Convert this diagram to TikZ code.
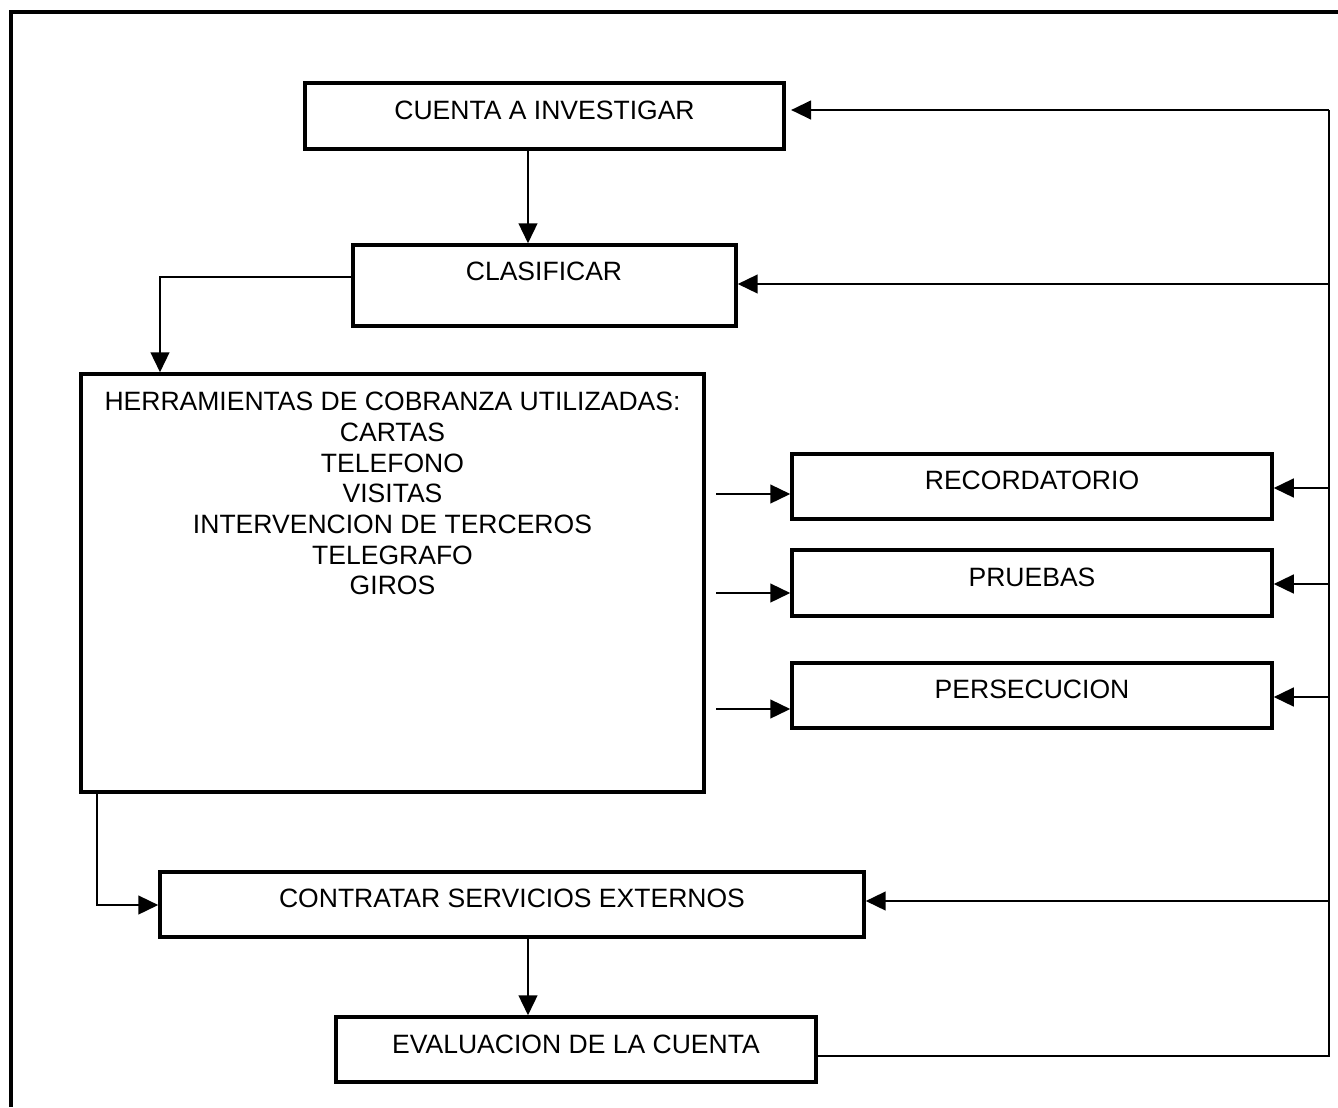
\documentclass[tikz,border=0pt]{standalone}
\usepackage{fontspec}
\setmainfont{Liberation Sans}
\usetikzlibrary{arrows.meta}
\begin{document}
\begin{tikzpicture}[x=0.75pt,y=-0.75pt,
  box/.style={draw,line width=2.6pt,rectangle,inner sep=0pt},
  lbl/.style={inner sep=0pt,font=\fontsize{19.9}{23}\selectfont},
  arr/.style={line width=1.8pt,-{Triangle[length=15pt,width=14pt]}},
  conn/.style={line width=1.8pt},
  frame/.style={line width=2.6pt}]
\useasboundingbox (0,0) rectangle (1338,1107);
\draw[frame] (1338,12) -- (11,12) -- (11,1107);
% boxes
\node[box,minimum width=359.25pt,minimum height=49.5pt] (cuenta) at (544.5,116) {};
\node[box,minimum width=287.25pt,minimum height=60.75pt] (clasif) at (544.5,285.5) {};
\node[box,minimum width=467.25pt,minimum height=313.5pt] (herr) at (392.5,583) {};
\node[box,minimum width=360pt,minimum height=48.75pt] (recor) at (1032,486.5) {};
\node[box,minimum width=360pt,minimum height=49.5pt] (pruebas) at (1032,583) {};
\node[box,minimum width=360pt,minimum height=48.75pt] (persec) at (1032,695.5) {};
\node[box,minimum width=528pt,minimum height=48.75pt] (contratar) at (512,904.5) {};
\node[box,minimum width=360pt,minimum height=48.75pt] (eval) at (576,1049.5) {};
% texts
\node[lbl] (tcuenta) at (544.5,110) {CUENTA A INVESTIGAR};
\node[lbl] (tclasif) at (544,271) {CLASIFICAR};
\node[lbl,align=center,anchor=north] (therr) at (392.5,392) {HERRAMIENTAS DE COBRANZA UTILIZADAS:\\CARTAS\\TELEFONO\\VISITAS\\INTERVENCION DE TERCEROS\\TELEGRAFO\\GIROS};
\node[lbl] (trecor) at (1032,480) {RECORDATORIO};
\node[lbl] (tpruebas) at (1032,577) {PRUEBAS};
\node[lbl] (tpersec) at (1032,689) {PERSECUCION};
\node[lbl] (tcontratar) at (512,898) {CONTRATAR SERVICIOS EXTERNOS};
\node[lbl] (teval) at (576,1044) {EVALUACION DE LA CUENTA};
% coordinates
\coordinate (ax) at (528,0);
\coordinate (c1) at (160,277);
\coordinate (h1) at (97,905);
\coordinate (la1) at (716,494);
\coordinate (la2) at (716,593);
\coordinate (la3) at (716,709);
\coordinate (rt) at (1329,110);
\coordinate (r2) at (1329,284);
\coordinate (r3) at (1329,488);
\coordinate (r4) at (1329,584);
\coordinate (r5) at (1329,697);
\coordinate (r6) at (1329,901);
\coordinate (rb) at (1329,1056);
% connectors
\draw[arr] (cuenta.south -| ax) -- (clasif.north -| ax);
\draw[arr] (c1 -| clasif.west) -| (herr.north -| c1);
\draw[arr] (la1) -- (la1 -| recor.west);
\draw[arr] (la2) -- (la2 -| pruebas.west);
\draw[arr] (la3) -- (la3 -| persec.west);
\draw[arr] (herr.south -| h1) |- (h1 -| contratar.west);
\draw[arr] (contratar.south -| ax) -- (eval.north -| ax);
\draw[conn] (rb -| eval.east) -- (rb) -- (rt);
\draw[arr,shorten >=4pt] (rt) -- (rt -| cuenta.east);
\draw[arr] (r2) -- (r2 -| clasif.east);
\draw[arr] (r3) -- (r3 -| recor.east);
\draw[arr] (r4) -- (r4 -| pruebas.east);
\draw[arr] (r5) -- (r5 -| persec.east);
\draw[arr] (r6) -- (r6 -| contratar.east);
\end{tikzpicture}
\end{document}
